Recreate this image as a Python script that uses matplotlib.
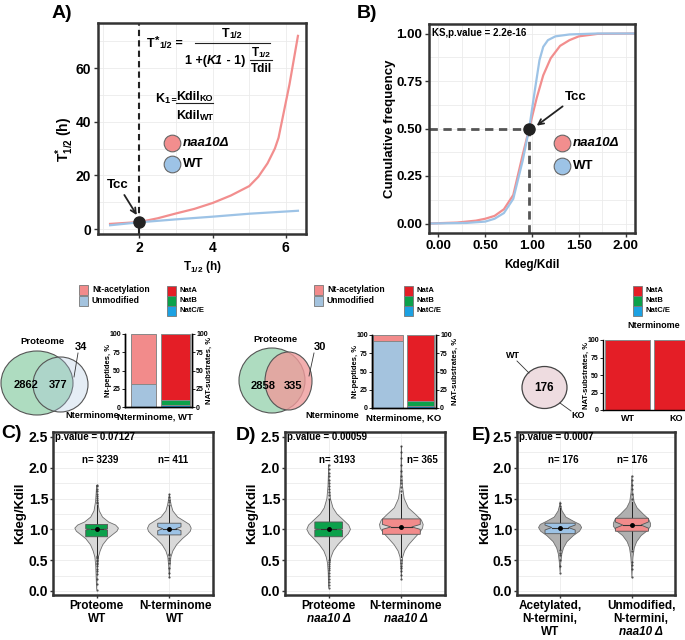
import numpy as np
import matplotlib
matplotlib.use("Agg")
import matplotlib.pyplot as plt
import matplotlib.transforms as mtransforms
from matplotlib.patches import Ellipse, Rectangle, Polygon

plt.rcParams['font.family'] = ['Liberation Sans', 'DejaVu Sans']
plt.rcParams['font.weight'] = 'bold'
plt.rcParams['axes.labelweight'] = 'bold'
plt.rcParams['mathtext.fontset'] = 'custom'
plt.rcParams['mathtext.rm'] = 'Liberation Sans:bold'
plt.rcParams['mathtext.it'] = 'Liberation Sans:italic:bold'
plt.rcParams['mathtext.bf'] = 'Liberation Sans:bold'

# ---------------- data ----------------
# A) apparent half-life vs half-life
a_t_ko = [1.2, 2.0, 2.5, 3.0, 3.5, 4.0, 4.5, 5.0, 5.25, 5.5, 5.7, 5.8, 5.95, 6.1, 6.33]
a_ko = [1.9, 2.6, 4.0, 5.8, 7.5, 9.7, 12.5, 16.0, 19.5, 24.5, 30.0, 34.0, 44.0, 54.0, 72.0]
a_t_wt = [1.2, 2.0, 3.0, 4.0, 5.0, 6.33]
a_wt = [1.4, 2.5, 3.6, 4.6, 5.7, 6.8]
a_tcc = (2.0, 2.6)

# B) cumulative frequency of Kdeg/Kdil
b_k_ko = [-0.1, 0.2, 0.4, 0.5, 0.6, 0.7, 0.8, 0.9, 0.97, 1.05, 1.12, 1.2, 1.3, 1.4, 1.5, 1.7, 2.1]
b_ko = [0, 0.005, 0.015, 0.025, 0.04, 0.075, 0.15, 0.36, 0.5, 0.66, 0.78, 0.87, 0.935, 0.965, 0.985, 0.998, 1.0]
b_k_wt = [-0.1, 0.3, 0.5, 0.6, 0.7, 0.8, 0.9, 0.97, 1.03, 1.08, 1.12, 1.17, 1.25, 1.4, 1.7, 2.1]
b_wt = [0, 0.003, 0.01, 0.025, 0.055, 0.13, 0.33, 0.5, 0.7, 0.86, 0.93, 0.965, 0.985, 0.995, 1.0, 1.0]
b_tcc = (0.97, 0.5)

# middle row: venn counts and stacked bars (%)
venn_wt = ["2862", "377", "34"]
venn_ko = ["2858", "335", "30"]
venn_common = "176"
nt_wt = {"Unmodified": 32, "Nt-acetylation": 68}
nat_wt = {"NatC/E": 3, "NatB": 7, "NatA": 90}
nt_ko = {"Unmodified": 92, "Nt-acetylation": 8}
nat_ko = {"NatC/E": 3, "NatB": 6, "NatA": 91}
nat_both = {"WT": 100, "KO": 100}

# bottom row: tick labels (italic strain line), violin profiles (y, relative width), box stats, outliers
KO_LINE = "naa10 Δ"
c_labels = [["Proteome", "WT"], ["N-terminome", "WT"]]
d_labels = [["Proteome", KO_LINE], ["N-terminome", KO_LINE]]
e_labels = [["Acetylated,", "N-termini,", "WT"], ["Unmodified,", "N-termini,", KO_LINE]]
c_p, d_p, e_p = "p.value = 0.07127", "p.value = 0.00059", "p.value = 0.0007"
c_n, d_n, e_n = ["n= 3239", "n= 411"], ["n= 3193", "n= 365"], ["n= 176", "n= 176"]

c1_y = [0.02, 0.2, 0.4, 0.55, 0.65, 0.75, 0.85, 0.92, 0.97, 1.02, 1.07, 1.12, 1.2, 1.3, 1.45, 1.6, 1.72]
c1_w = [0, 0.02, 0.04, 0.08, 0.16, 0.28, 0.5, 0.75, 0.93, 1.0, 0.87, 0.55, 0.27, 0.12, 0.05, 0.02, 0]
c2_y = [0.22, 0.4, 0.55, 0.65, 0.75, 0.85, 0.92, 0.97, 1.02, 1.08, 1.13, 1.2, 1.3, 1.4, 1.5, 1.57]
c2_w = [0, 0.03, 0.07, 0.16, 0.33, 0.6, 0.83, 0.96, 1.0, 0.92, 0.7, 0.38, 0.16, 0.08, 0.03, 0]
d1_y = [0.05, 0.3, 0.45, 0.55, 0.65, 0.75, 0.85, 0.93, 1.0, 1.07, 1.15, 1.25, 1.35, 1.5, 1.7, 1.9, 2.05]
d1_w = [0, 0.02, 0.05, 0.11, 0.22, 0.42, 0.68, 0.9, 1.0, 0.92, 0.68, 0.38, 0.2, 0.08, 0.03, 0.01, 0]
d2_y = [0.2, 0.4, 0.55, 0.65, 0.75, 0.85, 0.95, 1.02, 1.08, 1.15, 1.25, 1.35, 1.5, 1.7, 1.9, 2.1, 2.35]
d2_w = [0, 0.02, 0.06, 0.15, 0.33, 0.58, 0.84, 0.97, 1.0, 0.92, 0.63, 0.32, 0.13, 0.05, 0.02, 0.01, 0]
e1_y = [0.3, 0.45, 0.6, 0.7, 0.8, 0.9, 0.97, 1.03, 1.08, 1.13, 1.2, 1.3, 1.38, 1.45]
e1_w = [0, 0.03, 0.08, 0.16, 0.32, 0.62, 0.9, 1.0, 0.92, 0.63, 0.27, 0.09, 0.03, 0]
e2_y = [0.22, 0.4, 0.55, 0.7, 0.8, 0.9, 0.98, 1.05, 1.1, 1.17, 1.25, 1.35, 1.45, 1.6, 1.75, 1.87]
e2_w = [0, 0.02, 0.05, 0.11, 0.22, 0.43, 0.72, 0.86, 0.86, 0.77, 0.52, 0.24, 0.1, 0.04, 0.02, 0]

# (q1, median, q3, notch half-range, whisker low, whisker high)
c1_box = (0.88, 1.0, 1.08, 0.01, 0.58, 1.40)
c2_box = (0.91, 1.01, 1.10, 0.03, 0.62, 1.38)
d1_box = (0.88, 1.0, 1.12, 0.01, 0.50, 1.50)
d2_box = (0.92, 1.04, 1.17, 0.04, 0.55, 1.58)
e1_box = (0.93, 1.03, 1.10, 0.04, 0.68, 1.35)
e2_box = (0.97, 1.07, 1.18, 0.05, 0.68, 1.45)

c1_out = [0.02, 0.12, 0.2, 0.27, 0.32, 0.36, 0.4, 0.43, 0.46, 0.49, 0.51, 0.53, 0.55, 0.57,
          1.42, 1.45, 1.48, 1.51, 1.54, 1.58, 1.62, 1.66, 1.7, 1.72]
c2_out = [0.22, 0.3, 0.38, 0.45, 0.5, 0.54, 0.58, 0.6, 1.4, 1.44, 1.48, 1.52, 1.57]
d1_out = [0.05, 0.1, 0.15, 0.2, 0.25, 0.3, 0.34, 0.38, 0.41, 0.44, 0.47, 0.5,
          1.5, 1.55, 1.6, 1.65, 1.7, 1.75, 1.8, 1.86, 1.92, 1.98, 2.05]
d2_out = [0.2, 0.26, 0.32, 0.37, 0.41, 0.45, 0.5, 1.62, 1.68, 1.75, 1.8, 1.87, 1.95, 2.05, 2.15, 2.25, 2.35]
e1_out = [0.3, 0.4, 0.5, 0.58, 0.62, 0.66, 1.38, 1.42]
e2_out = [0.22, 0.35, 0.42, 0.47, 0.65, 1.5, 1.58, 1.65, 1.72, 1.8, 1.87]

# ---------------- style ----------------
W, H = 685, 640
RED = '#F28E8E'
BLUE = '#9DC3E6'
PINK = '#F28B8B'
UNMOD = '#A4C3DE'
NATA, NATB, NATC = '#E41E26', '#0BA14B', '#1CA1E2'
GREEN_BOX = '#0BA14B'
FRAME = '#333333'
GRID = '#EBEBEB'

fig = plt.figure(figsize=(W / 100, H / 100), dpi=100)
fig.patch.set_facecolor('white')


def px_axes(x0, y0, x1, y1, **kw):
    return fig.add_axes([x0 / W, 1 - y1 / H, (x1 - x0) / W, (y1 - y0) / H], **kw)


def frame(ax):
    for s in ax.spines.values():
        s.set_linewidth(1.8)
        s.set_color(FRAME)
    ax.tick_params(which='both', color=FRAME, width=1)
    ax.tick_params(which='minor', length=0)
    ax.grid(True, which='both', color=GRID, lw=0.6)
    ax.set_axisbelow(True)


ov = fig.add_axes([0, 0, 1, 1], zorder=10)
ov.set_xlim(0, W)
ov.set_ylim(H, 0)
ov.axis('off')
ov.patch.set_alpha(0)


def chain(x, y, pieces, ha='left'):
    r = fig.canvas.get_renderer()
    objs = []
    for s, size, dy, style in pieces:
        objs.append(ov.text(x, y + dy, s, fontsize=size, fontstyle=style, va='baseline', ha='left'))
    widths = [t.get_window_extent(r).width for t in objs]
    x0 = x - sum(widths) / 2 if ha == 'center' else x
    for t, w in zip(objs, widths):
        t.set_x(x0)
        x0 += w


# ---------------- A ----------------
axA = px_axes(98, 23, 306, 234)
frame(axA)
axA.plot(a_t_ko, a_ko, color=RED, lw=1.6)
axA.plot(a_t_wt, a_wt, color=BLUE, lw=1.6)
axA.axvline(a_tcc[0], color='#222222', lw=1.5, ls=(0, (3, 2)))
axA.plot(*a_tcc, 'o', color='#222222', ms=8, zorder=5)
axA.annotate('Tcc', xy=(1.93, 5.2), xytext=(1.42, 16.4), ha='center', va='center', fontsize=9.5,
             arrowprops=dict(arrowstyle='->', lw=1.3, color='#222222', shrinkA=1, shrinkB=0))
axA.set_xlim(0.87, 6.55)
axA.set_ylim(-1.86, 76.8)
axA.set_xticks([2, 4, 6])
axA.set_xticks([1, 3, 5], minor=True)
axA.set_yticks([0, 20, 40, 60])
axA.set_yticks([10, 30, 50, 70], minor=True)
axA.tick_params(labelsize=10, length=3, pad=2)
axA.set_xlabel('T$_{1/2}$ (h)', fontsize=8.5)
axA.set_ylabel('T$^{*}_{1/2}$ (h)', fontsize=10)
axA.xaxis.set_label_coords(0.5, -0.118)
axA.yaxis.set_label_coords(-0.105, 0.45)

# formula
chain(147, 47, [('T', 9, 0, 'normal'), ('*', 8, -3, 'normal'), ('1/2', 6.5, 1, 'normal'), (' =', 9, 0, 'normal')])
chain(232, 37, [('T', 9, 0, 'normal'), ('1/2', 6.5, 1, 'normal')], ha='center')
ov.plot([195, 270], [43, 43], color='#222222', lw=0.8)
chain(185, 64, [('1 +(', 9, 0, 'normal'), ('K1', 9, 0, 'italic'), (' - 1)', 9, 0, 'normal')])
chain(261, 56, [('T', 8.5, 0, 'normal'), ('1/2', 6, 1, 'normal')], ha='center')
ov.plot([250, 272], [59.5, 59.5], color='#222222', lw=0.8)
chain(261, 72, [('Tdil', 8.5, 0, 'normal')], ha='center')
chain(155, 102, [('K', 9, 0, 'normal'), ('1', 6.5, 1, 'normal'), (' =', 6.5, 1, 'normal')])
chain(176, 100, [('Kdil', 9, 0, 'normal'), ('KO', 6.5, 1, 'normal')])
ov.plot([176, 213], [103, 103], color='#222222', lw=0.8)
chain(176, 119, [('Kdil', 9, 0, 'normal'), ('WT', 6.5, 1, 'normal')])

ov.plot(172, 143, 'o', ms=12, mfc=RED, mec='#666666', mew=0.8)
ov.plot(172, 164, 'o', ms=12, mfc=BLUE, mec='#666666', mew=0.8)
ov.text(183, 143, 'naa10Δ', fontsize=9.5, fontstyle='italic', va='center')
ov.text(183, 164, 'WT', fontsize=9.5, va='center')

# ---------------- B ----------------
axB = px_axes(429, 24, 635, 233)
frame(axB)
axB.plot(b_k_ko, b_ko, color=RED, lw=1.6)
axB.plot(b_k_wt, b_wt, color=BLUE, lw=1.6)
axB.plot([-0.1, b_tcc[0]], [b_tcc[1], b_tcc[1]], color='#555555', lw=2, ls=(0, (3, 2)))
axB.plot([b_tcc[0], b_tcc[0]], [-0.05, b_tcc[1]], color='#555555', lw=2, ls=(0, (3, 2)))
axB.plot(*b_tcc, 'o', color='#222222', ms=8, zorder=5)
axB.annotate('Tcc', xy=(1.05, 0.515), xytext=(1.465, 0.667), ha='center', va='center', fontsize=9.5,
             arrowprops=dict(arrowstyle='->', lw=1.3, color='#222222', shrinkA=1, shrinkB=0))
axB.text(-0.07, 1.0, 'KS,p.value = 2.2e-16', fontsize=7, va='center')
axB.set_xlim(-0.1, 2.1)
axB.set_ylim(-0.05, 1.05)
axB.set_xticks([0, 0.5, 1, 1.5, 2])
axB.set_xticklabels(['0.00', '0.50', '1.00', '1.50', '2.00'])
axB.set_xticks([0.25, 0.75, 1.25, 1.75], minor=True)
axB.set_yticks([0, 0.25, 0.5, 0.75, 1])
axB.set_yticklabels(['0.00', '0.25', '0.50', '0.75', '1.00'])
axB.set_yticks([0.125, 0.375, 0.625, 0.875], minor=True)
axB.tick_params(labelsize=9.5, length=3, pad=2)
axB.set_xlabel('Kdeg/Kdil', fontsize=8.5)
axB.set_ylabel('Cumulative frequency', fontsize=9.5)
axB.xaxis.set_label_coords(0.5, -0.124)
axB.yaxis.set_label_coords(-0.16, 0.5)

ov.plot(562, 143, 'o', ms=12, mfc=RED, mec='#666666', mew=0.8)
ov.plot(562, 166, 'o', ms=12, mfc=BLUE, mec='#666666', mew=0.8)
ov.text(573, 143, 'naa10Δ', fontsize=9.5, fontstyle='italic', va='center')
ov.text(573, 166, 'WT', fontsize=9.5, va='center')

# panel letters
for s, x, y in [('A)', 62, 13), ('B)', 367, 13), ('C)', 12, 434), ('D)', 246, 435), ('E)', 482, 436)]:
    ov.text(x, y, s, fontsize=14, ha='center', va='center')


# ---------------- middle row ----------------
def legend_sq(x, y, color, label, size):
    ov.add_patch(Rectangle((x, y), 9, 10, facecolor=color, edgecolor='#777777', lw=0.6))
    ov.text(x + 13, y + 5, label, fontsize=size, va='center')


def bar_axes(ax, right=True):
    for s in ['top'] + ([] if right else ['right']):
        ax.spines[s].set_visible(False)
    for s in ax.spines.values():
        s.set_linewidth(1)
    ax.set_ylim(0, 100)
    ax.set_yticks([0, 25, 50, 75, 100])
    ax.tick_params(labelsize=5, length=2, pad=1, width=0.6)
    ax.set_xticks([])


def stacked(ax, x, parts, colors, width):
    bottom = 0
    for k, v in parts.items():
        ax.bar(x, v, bottom=bottom, width=width, color=colors[k], edgecolor='#888888', lw=0.7)
        bottom += v


seg_colors = {"Unmodified": UNMOD, "Nt-acetylation": PINK, "NatA": NATA, "NatB": NATB, "NatC/E": NATC}

for lx in [79, 314]:
    legend_sq(lx, 285, PINK, 'Nt-acetylation', 6.2)
    legend_sq(lx, 295.5, UNMOD, 'Unmodified', 6.2)
for nx, ny in [(167, 286), (404, 286), (633, 286)]:
    legend_sq(nx, ny, NATA, 'NatA', 5.5)
    legend_sq(nx, ny + 10, NATB, 'NatB', 5.5)
    legend_sq(nx, ny + 20, NATC, 'NatC/E', 5.5)
ov.text(654, 326, 'Nterminome', fontsize=6.5, ha='center', va='center')

# WT bars
b1 = px_axes(125, 334, 192, 407)
bar_axes(b1)
stacked(b1, 1, nt_wt, seg_colors, 0.8)
stacked(b1, 2, nat_wt, seg_colors, 0.9)
b1.set_xlim(0.42, 2.52)
b1.set_ylabel('Nt-peptides, %', fontsize=5.5)
b1.yaxis.set_label_coords(-0.2, 0.5)
b1.set_xlabel('Nterminome, WT', fontsize=6.8)
b1.xaxis.set_label_coords(0.45, -0.08)
b1r = b1.twinx()
bar_axes(b1r)
b1r.set_ylabel('NAT-substrates, %', fontsize=5.5)
b1r.yaxis.set_label_coords(1.2, 0.5)

# KO bars
b2 = px_axes(372, 335, 436, 408)
bar_axes(b2)
stacked(b2, 1, nt_ko, seg_colors, 0.9)
stacked(b2, 2, nat_ko, seg_colors, 0.84)
b2.set_xlim(0.51, 2.48)
b2.set_ylabel('Nt-peptides, %', fontsize=5.5)
b2.yaxis.set_label_coords(-0.2, 0.5)
b2.set_xlabel('Nterminome, KO', fontsize=6.8)
b2.xaxis.set_label_coords(0.5, -0.07)
b2r = b2.twinx()
bar_axes(b2r)
b2r.set_ylabel('NAT-substrates, %', fontsize=5.5)
b2r.yaxis.set_label_coords(1.25, 0.5)

# common substrates bars
b3 = px_axes(603, 340, 700, 410)
bar_axes(b3, right=False)
for i, (k, v) in enumerate(nat_both.items()):
    b3.bar(i + 1, v, width=0.92, color=NATA, edgecolor='#888888', lw=0.7)
b3.set_xlim(0.5, 2.48)
b3.set_xticks([1, 2])
b3.set_xticklabels(list(nat_both.keys()), fontsize=6.5)
b3.tick_params(axis='x', length=0, pad=3)
b3.set_ylabel('NAT-substrates, %', fontsize=5.5)
b3.yaxis.set_label_coords(-0.14, 0.5)

# venn diagrams
ov.add_patch(Ellipse((37, 383), 72, 64, facecolor='#AEDCC0', edgecolor='#555555', lw=0.8))
ov.add_patch(Ellipse((60.5, 384.5), 55, 55, facecolor='#ACC6E1', alpha=0.3, edgecolor='none'))
ov.add_patch(Ellipse((60.5, 384.5), 55, 55, facecolor='none', edgecolor='#555555', lw=0.8))
ov.text(42, 342, 'Proteome', fontsize=6.8, ha='center', va='center')
ov.text(92, 415, 'Nterminome', fontsize=6.6, ha='center', va='center')
ov.text(26, 385, venn_wt[0], fontsize=8, ha='center', va='center')
ov.text(58, 385, venn_wt[1], fontsize=8, ha='center', va='center')
ov.text(81, 347, venn_wt[2], fontsize=8, ha='center', va='center')
ov.plot([78, 74], [353, 377], color='#333333', lw=0.6)

ov.add_patch(Ellipse((272, 380.5), 66, 65, facecolor='#AEDCC0', edgecolor='#555555', lw=0.8))
ov.add_patch(Ellipse((288.5, 381), 47, 58, facecolor='#EF9B9B', alpha=0.8, edgecolor='none'))
ov.add_patch(Ellipse((288.5, 381), 47, 58, facecolor='none', edgecolor='#555555', lw=0.8))
ov.text(275, 340, 'Proteome', fontsize=6.8, ha='center', va='center')
ov.text(332, 415, 'Nterminome', fontsize=6.6, ha='center', va='center')
ov.text(263, 386, venn_ko[0], fontsize=8, ha='center', va='center')
ov.text(293, 386, venn_ko[1], fontsize=8, ha='center', va='center')
ov.text(320, 347, venn_ko[2], fontsize=8, ha='center', va='center')
ov.plot([314, 309], [353, 376], color='#333333', lw=0.6)

ov.add_patch(Ellipse((544.5, 387.5), 45, 42, facecolor='#EEDCE0', edgecolor='#444444', lw=0.9))
ov.text(544.5, 388, venn_common, fontsize=8.5, ha='center', va='center')
ov.text(513, 355, 'WT', fontsize=6.5, ha='center', va='center')
ov.plot([517, 529], [361, 373], color='#333333', lw=0.6)
ov.text(578, 415, 'KO', fontsize=6.5, ha='center', va='center')
ov.plot([560, 571], [403, 411], color='#333333', lw=0.6)


# ---------------- violins ----------------
def violin(ax, pos, ys, ws, box, hw, color, vfill, outl, vmax=0.3):
    ys = np.asarray(ys)
    ws = np.asarray(ws) * vmax
    xs = np.concatenate([pos - ws, (pos + ws)[::-1]])
    yy = np.concatenate([ys, ys[::-1]])
    ax.fill(xs, yy, facecolor=vfill, edgecolor='#6E6E6E', lw=0.6, zorder=2)
    q1, med, q3, nd, wlo, whi = box
    ax.plot([pos, pos], [wlo, whi], color='#222222', lw=0.7, zorder=3)
    nw = hw * 0.55
    pts = [(pos - hw, q1), (pos + hw, q1), (pos + hw, med - nd), (pos + nw, med), (pos + hw, med + nd),
           (pos + hw, q3), (pos - hw, q3), (pos - hw, med + nd), (pos - nw, med), (pos - hw, med - nd)]
    ax.add_patch(Polygon(pts, closed=True, facecolor=color, edgecolor='#555555', lw=0.6, zorder=4))
    ax.plot([pos - nw, pos + nw], [med, med], color='#333333', lw=0.8, zorder=5)
    ax.plot(pos, med, 'o', color='black', ms=2.5, zorder=6)
    ax.plot([pos] * len(outl), outl, 'o', color='#333333', ms=1.6, alpha=0.8, mew=0, zorder=5)


def violin_axes(ax, labels, lab_pos, ptext, ntext, nx):
    frame(ax)
    ax.set_xlim(0.4, 2.6)
    ax.set_ylim(-0.065, 2.58)
    ax.set_xticks([1, 2])
    ax.set_xticklabels([])
    trans = mtransforms.blended_transform_factory(ax.transData, ax.transAxes)
    line_h = 13.3 / 163
    for lines, x in zip(labels, lab_pos):
        for i, line in enumerate(lines):
            ax.text(x, -0.03 - i * line_h, line, transform=trans, fontsize=8.5, ha='center', va='top',
                    fontstyle='italic' if line == KO_LINE else 'normal', clip_on=False)
    ax.set_yticks([0, 0.5, 1, 1.5, 2, 2.5])
    ax.set_yticklabels(['0.0', '0.5', '1.0', '1.5', '2.0', '2.5'])
    ax.set_yticks([0.25, 0.75, 1.25, 1.75, 2.25], minor=True)
    ax.tick_params(labelsize=10, length=2.5, pad=1)
    ax.set_ylabel('Kdeg/Kdil', fontsize=9.5)
    ax.yaxis.set_label_coords(-0.165, 0.5)
    ax.text(0.43, 2.5, ptext, fontsize=7, va='center')
    for t, x in zip(ntext, nx):
        ax.text(x, 2.13, t, fontsize=7, ha='center', va='center')


vC = px_axes(53, 432, 213, 595)
violin_axes(vC, c_labels, [1.0, 2.08], c_p, c_n, [1.05, 2.05])
violin(vC, 1, c1_y, c1_w, c1_box, 0.15, GREEN_BOX, '#D9D9D9', c1_out)
violin(vC, 2, c2_y, c2_w, c2_box, 0.16, BLUE, '#D9D9D9', c2_out)

vD = px_axes(285, 432, 445, 595)
violin_axes(vD, d_labels, [1.0, 2.06], d_p, d_n, [1.12, 2.29])
violin(vD, 1, d1_y, d1_w, d1_box, 0.19, GREEN_BOX, '#D9D9D9', d1_out)
violin(vD, 2, d2_y, d2_w, d2_box, 0.26, PINK, '#D9D9D9', d2_out)

vE = px_axes(517, 432, 675, 595)
violin_axes(vE, e_labels, [0.86, 2.13], e_p, e_n, [1.04, 2.0])
violin(vE, 1, e1_y, e1_w, e1_box, 0.21, BLUE, '#B0B0B0', e1_out)
violin(vE, 2, e2_y, e2_w, e2_box, 0.23, PINK, '#B0B0B0', e2_out)

fig.savefig('out.png', dpi=100, facecolor='white')
